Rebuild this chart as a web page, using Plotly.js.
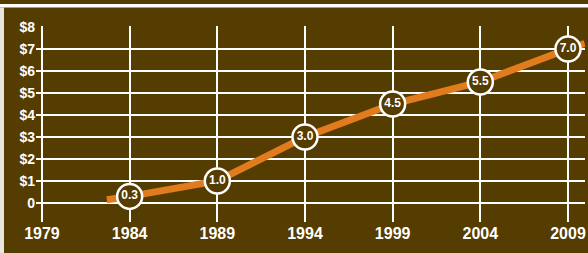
<!DOCTYPE html>
<html>
<head>
<meta charset="utf-8">
<script src="https://cdn.plot.ly/plotly-3.0.1.min.js"></script>
<style>
html,body{margin:0;padding:0;background:#fff;}
#chart{width:588px;height:253px;}
</style>
</head>
<body>
<div id="chart"></div>
<script>
// Data
const years = [1984, 1989, 1994, 1999, 2004, 2009];
const values = [0.3, 1.0, 3.0, 4.5, 5.5, 7.0];
const valueLabels = ['0.3', '1.0', '3.0', '4.5', '5.5', '7.0'];
const lineStartYear = 1982.7, lineStartValue = 0.15;
const lineEndYear = 2009.95, lineEndValue = 7.25;
const xTickVals = [1979, 1984, 1989, 1994, 1999, 2004, 2009];
const xTickText = ['1979', '1984', '1989', '1994', '1999', '2004', '2009'];
const yTickVals = [0, 1, 2, 3, 4, 5, 6, 7, 8];
const yTickText = ['0', '$1', '$2', '$3', '$4', '$5', '$6', '$7', '$8'];

const BROWN = '#553c00';
const ORANGE = '#e07b1e';
const WHITE = '#ffffff';
const FONT = '"Liberation Sans", Arial, sans-serif';

const lineX = [lineStartYear].concat(years, [lineEndYear]);
const lineY = [lineStartValue].concat(values, [lineEndValue]);

const traces = [
  {
    x: lineX, y: lineY, type: 'scatter', mode: 'lines',
    line: {color: ORANGE, width: 7},
    hoverinfo: 'skip', showlegend: false, cliponaxis: false
  },
  {
    x: years, y: values, type: 'scatter', mode: 'markers+text',
    text: valueLabels, textposition: 'middle center',
    textfont: {family: FONT, size: 12, color: WHITE, weight: 'bold'},
    marker: {size: 25, color: BROWN, line: {color: WHITE, width: 2.5}},
    hoverinfo: 'skip', showlegend: false, cliponaxis: false
  }
];

const layout = {
  width: 588, height: 253,
  margin: {l: 36, r: 3, t: 26, b: 31},
  paper_bgcolor: BROWN, plot_bgcolor: BROWN,
  showlegend: false,
  xaxis: {
    range: [1978.66, 2009.97],
    tickvals: xTickVals, ticktext: xTickText,
    showgrid: true, gridcolor: WHITE, gridwidth: 2,
    zeroline: false, showline: false, ticks: '',
    ticklabeloverflow: 'allow',
    tickfont: {family: FONT, size: 16, color: WHITE, weight: 'bold'},
    fixedrange: true
  },
  yaxis: {
    range: [-0.864, 8.045],
    tickvals: yTickVals, ticktext: yTickText,
    showgrid: true, gridcolor: WHITE, gridwidth: 2,
    zeroline: false, showline: false, ticks: '',
    tickfont: {family: FONT, size: 14, color: WHITE, weight: 'bold'},
    fixedrange: true
  },
  shapes: [
    // white gap strip below top band
    {type: 'rect', xref: 'paper', yref: 'paper', x0: -0.07, x1: 1.01, y0: 1.0944, y1: 1.1122,
     fillcolor: WHITE, line: {width: 0}},
    // light left edge strip
    {type: 'rect', xref: 'paper', yref: 'paper', x0: -0.07, x1: -0.0583, y0: -0.17, y1: 1.0944,
     fillcolor: '#e9e6de', line: {width: 0}}
  ]
};

Plotly.newPlot('chart', traces, layout, {displayModeBar: false, staticPlot: true});
</script>
</body>
</html>
